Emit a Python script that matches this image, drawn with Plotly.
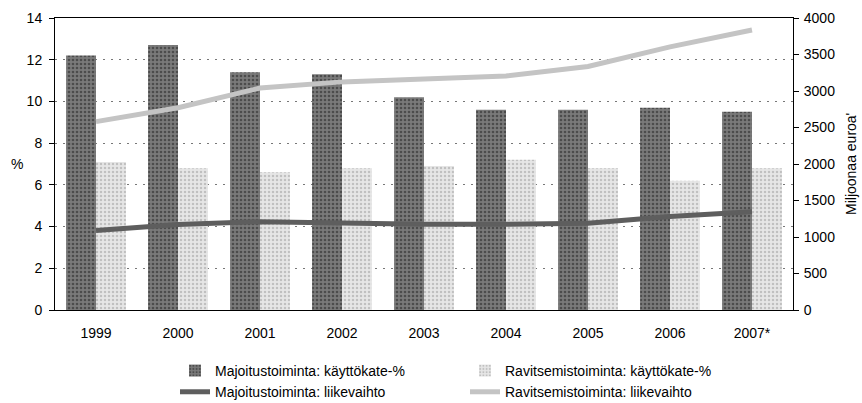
import plotly.graph_objects as go

years = ["1999", "2000", "2001", "2002", "2003", "2004", "2005", "2006", "2007*"]
majoitus_kate = [12.2, 12.7, 11.4, 11.3, 10.2, 9.6, 9.6, 9.7, 9.5]
ravitsemis_kate = [7.1, 6.8, 6.6, 6.8, 6.9, 7.2, 6.8, 6.2, 6.8]
majoitus_lv = [1090, 1170, 1210, 1185, 1175, 1175, 1190, 1280, 1345]
ravitsemis_lv = [2580, 2770, 3040, 3125, 3165, 3205, 3335, 3605, 3835]

FONT = "Liberation Sans, Arial, sans-serif"

fig = go.Figure()
fig.add_trace(go.Bar(
    x=years, y=majoitus_kate, name="Majoitustoiminta: käyttökate-%",
    marker=dict(color="#6e6e6e", line=dict(width=0),
                pattern=dict(shape=".", fgcolor="#1e1e1e", bgcolor="#7a7a7a", size=4, solidity=0.35)),
    legend="legend",
))
fig.add_trace(go.Bar(
    x=years, y=ravitsemis_kate, name="Ravitsemistoiminta: käyttökate-%",
    marker=dict(color="#d8d8d8", line=dict(width=0),
                pattern=dict(shape=".", fgcolor="#9a9a9a", bgcolor="#e6e6e6", size=4, solidity=0.3)),
    legend="legend2",
))
fig.add_trace(go.Scatter(
    x=years, y=majoitus_lv, name="Majoitustoiminta: liikevaihto", yaxis="y2",
    mode="lines", line=dict(color="#5e5e5e", width=5),
    legend="legend",
))
fig.add_trace(go.Scatter(
    x=years, y=ravitsemis_lv, name="Ravitsemistoiminta: liikevaihto", yaxis="y2",
    mode="lines", line=dict(color="#c4c4c4", width=5),
    legend="legend2",
))

leg_common = dict(orientation="v", yanchor="top", xanchor="left", font=dict(size=14),
                  bgcolor="rgba(0,0,0,0)", traceorder="normal", tracegroupgap=0)

fig.update_layout(
    width=862, height=403,
    margin=dict(l=55, r=69, t=18, b=93, autoexpand=False),
    paper_bgcolor="white", plot_bgcolor="white",
    font=dict(family=FONT, size=14, color="black"),
    barmode="group", bargap=0.27, bargroupgap=0,
    xaxis=dict(showline=True, linecolor="black", linewidth=1, mirror=True,
               ticks="", showgrid=False, tickfont=dict(size=14),
               ticklabelstandoff=10),
    yaxis=dict(range=[0, 14], dtick=2, showline=True, linecolor="black", linewidth=1,
               ticks="outside", ticklen=5, tickcolor="black",
               showgrid=True, gridcolor="#777", griddash="2px,6px", gridwidth=1,
               zeroline=False, tickfont=dict(size=14), ticklabelstandoff=4),
    yaxis2=dict(range=[0, 4000], dtick=500, overlaying="y", side="right",
                showline=True, linecolor="black", linewidth=1,
                ticks="outside", ticklen=5, tickcolor="black",
                showgrid=False, zeroline=False, tickfont=dict(size=14),
                ticklabelstandoff=2),
    legend=dict(x=(175 - 55) / 738, y=-0.154, **leg_common),
    legend2=dict(x=(465 - 55) / 738, y=-0.154, **leg_common),
    annotations=[
        dict(text="%", xref="paper", yref="paper", x=(17 - 55) / 738, y=0.5,
             showarrow=False, font=dict(size=14), xanchor="center", yanchor="middle"),
        dict(text="Miljoonaa euroa'", xref="paper", yref="paper", x=(851 - 55) / 738, y=0.5,
             showarrow=False, textangle=-90, font=dict(size=14),
             xanchor="center", yanchor="middle"),
    ],
)

fig.write_html("out.html", config={"displayModeBar": False},
               post_script="document.body.style.margin='0px';")
